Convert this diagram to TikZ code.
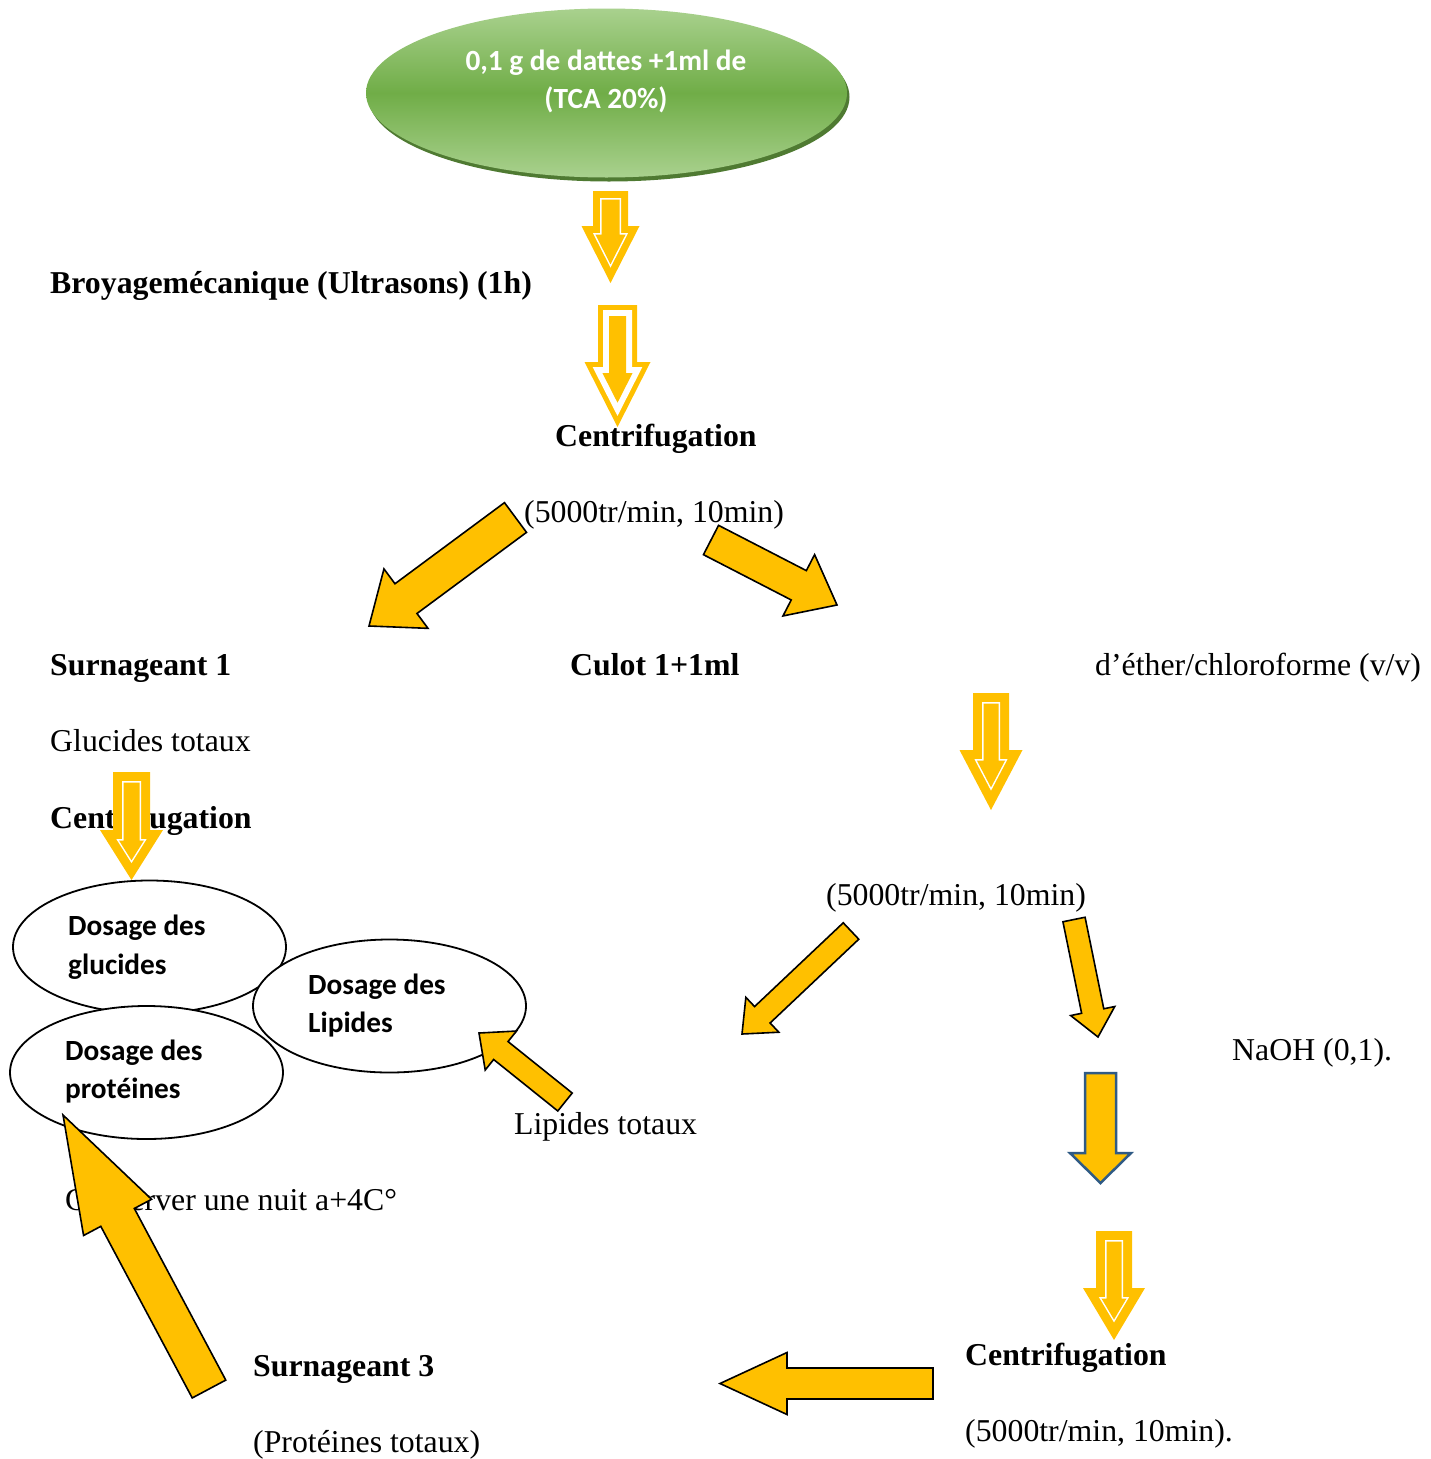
\documentclass[tikz,border=0pt]{standalone}
\usepackage{fontspec}
\setmainfont{Liberation Serif}
\newfontfamily\calib{Carlito}
\usetikzlibrary{shapes.geometric}
\definecolor{arrowor}{HTML}{FFC000}
\definecolor{gtop}{HTML}{A9D18E}
\definecolor{gmid}{HTML}{70AD47}
\definecolor{gshadow}{HTML}{4F7A32}
\definecolor{blueedge}{HTML}{2F5A85}

% block arrow: x1 y1 (tail centre) x2 y2 (tip) halfshaft halfhead headlength style
\newcommand\blockarr[8]{%
 \pgfmathsetmacro\baDx{(#3)-(#1)}%
 \pgfmathsetmacro\baDy{(#2)-(#4)}%
 \pgfmathsetmacro\baAng{atan2(\baDy,\baDx)}%
 \pgfmathsetmacro\baLen{veclen(\baDx,\baDy)}%
 \pgfmathsetmacro\baH{\baLen-(#7)}%
 \path[#8, shift={(#1,#2)}, rotate=\baAng] (0,-#5) -- (\baH,-#5) -- (\baH,-#6) -- (\baLen,0) -- (\baH,#6) -- (\baH,#5) -- (0,#5) -- cycle;}

% down arrow polygon, inset by d: cx top w h W tip d style
\newcommand\downpoly[8]{%
 \pgfmathsetmacro\dpL{(#6)-(#4)}%
 \pgfmathsetmacro\dpTip{(#6)-(#7)*sqrt((#5)*(#5)+\dpL*\dpL)/(#5)}%
 \pgfmathsetmacro\dpHy{(#4)+(#7)}%
 \pgfmathsetmacro\dpW{(\dpTip-\dpHy)*(#5)/\dpL}%
 \pgfmathsetmacro\dpw{(#3)-(#7)}%
 \pgfmathsetmacro\dpT{(#2)+(#7)}%
 \path[#8] (#1-\dpw,\dpT) -- (#1+\dpw,\dpT) -- (#1+\dpw,\dpHy) -- (#1+\dpW,\dpHy) -- (#1,\dpTip) -- (#1-\dpW,\dpHy) -- (#1-\dpw,\dpHy) -- cycle;}

% hollow down arrow: cx top w h W tip border gap
\newcommand\hollowdown[8]{%
 \downpoly{#1}{#2}{#3}{#4}{#5}{#6}{0}{fill=arrowor}%
 \downpoly{#1}{#2}{#3}{#4}{#5}{#6}{#7}{fill=white}%
 \pgfmathsetmacro\hdIn{(#7)+(#8)}%
 \downpoly{#1}{#2}{#3}{#4}{#5}{#6}{\hdIn}{fill=arrowor}}

\begin{document}
\begin{tikzpicture}[x=1pt,y=-1pt,
  tr/.style={inner sep=0pt, anchor=base west, font=\fontsize{31.8}{38}\selectfont},
  trb/.style={inner sep=0pt, anchor=base west, font=\fontsize{31.8}{38}\selectfont\bfseries},
  cal/.style={inner sep=0pt, anchor=base west, font=\calib\fontsize{29.3}{35}\selectfont\bfseries},
  calw/.style={inner sep=0pt, anchor=base, text=white, font=\calib\fontsize{29.3}{35}\selectfont\bfseries},
  dosage/.style={ellipse, draw=black, line width=1.8pt, fill=white, minimum width=273pt, minimum height=133pt, inner sep=0pt},
  barrow/.style={draw=black, line width=1.6pt, line join=miter, fill=arrowor}]
\useasboundingbox (0,0) rectangle (1430,1459);
\fill[white] (0,0) rectangle (1430,1459);

% source ellipse
\node[ellipse, fill=gshadow, minimum width=481pt, minimum height=169pt, inner sep=0pt] (srcsh) at (609,97) {};
\node[ellipse, top color=gtop, bottom color=gtop, middle color=gmid, minimum width=481pt, minimum height=169pt, inner sep=0pt] (src) at (606.5,93) {};
\node[calw] (src1) at (606,70) {0,1 g de dattes +1ml de};
\node[calw] (src2) at (606,108) {(TCA 20\%)};

% top hollow arrows
\hollowdown{610.5}{191}{17.5}{226}{29}{283}{7}{1.5}
\hollowdown{617.5}{305}{19.5}{362}{33}{427}{5}{6}

\node[trb] (broy) at (50,293) {Broyagemécanique (Ultrasons) (1h)};
\node[trb] (cent1) at (555,446) {Centrifugation};
\node[tr] (cond1) at (524,522) {(5000tr/min, 10min)};

\blockarr{515.5}{517.5}{369}{626}{18.5}{37}{46}{barrow}
\blockarr{711}{540}{837}{605}{16.5}{34.5}{43}{barrow}

\node[trb] (surn1) at (50,675) {Surnageant 1};
\node[trb] (culot1) at (570,675) {Culot 1+1ml};
\node[tr] (ether) at (1095,675) {d’éther/chloroforme (v/v)};
\node[tr] (gluc) at (50,751) {Glucides totaux};
\node[trb] (cent2) at (50,828) {Centrifugation};

\hollowdown{991}{693}{18}{750}{31.5}{810}{9}{1.5}

\node[tr] (cond2) at (826,905) {(5000tr/min, 10min)};
\node[tr] (naoh) at (1232,1060) {NaOH (0,1).};
\node[tr] (lipt) at (514,1134) {Lipides totaux};
\node[tr] (cons) at (65,1210) {Conserver une nuit a+4C°};
\node[trb] (surn3) at (253,1376) {Surnageant 3};
\node[tr] (prot) at (253,1452) {(Protéines totaux)};
\node[trb] (cent3) at (965,1365) {Centrifugation};
\node[tr] (cond3) at (965,1441) {(5000tr/min, 10min).};

% dosage ellipses
\node[dosage] (eglu) at (149.5,947) {};
\node[cal] (eglu1) at (68,935) {Dosage des};
\node[cal] (eglu2) at (68,974) {glucides};
\node[dosage] (eprot) at (146.5,1072.5) {};
\node[cal] (eprot1) at (65,1060) {Dosage des};
\node[cal] (eprot2) at (65,1098) {protéines};
\node[dosage] (elip) at (389.5,1006) {};
\node[cal] (elip1) at (308,994) {Dosage des};
\node[cal] (elip2) at (308,1032) {Lipides};

\hollowdown{131.5}{772}{18.5}{830}{31.5}{880}{9}{1.5}

\blockarr{851}{931}{742}{1034}{11.3}{24}{28}{barrow}
\blockarr{1074}{919.5}{1098}{1037}{11.3}{22.5}{26.5}{barrow}
\blockarr{565}{1102}{479}{1033}{11.5}{25}{28}{barrow}

% plain down arrow with blue edge
\downpoly{1100.5}{1073}{15.5}{1153}{30.5}{1183}{0}{fill=arrowor, draw=blueedge, line width=2.5pt, line join=miter}

\hollowdown{1114}{1231}{18}{1288}{31}{1340}{9}{1.5}

\blockarr{933}{1383.5}{720}{1383.5}{15.5}{31}{67}{barrow}
\blockarr{209}{1389}{63}{1115}{19}{38.5}{116}{barrow}
\end{tikzpicture}
\end{document}
